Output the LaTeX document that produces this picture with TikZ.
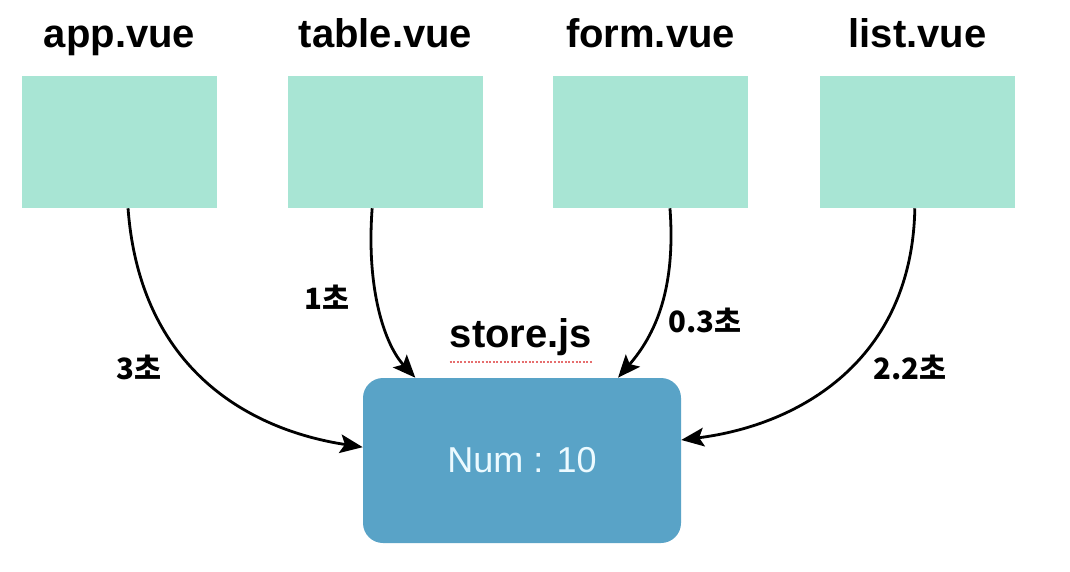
\documentclass[tikz,border=0pt]{standalone}
\usepackage{fontspec}
\setmainfont{Liberation Sans}
\newfontfamily\krfont{Noto Sans CJK KR}
\usetikzlibrary{arrows.meta}
\definecolor{compfill}{RGB}{168,229,212}
\definecolor{storefill}{RGB}{89,163,199}
\definecolor{numtext}{RGB}{236,250,255}
\definecolor{squiggle}{RGB}{230,110,110}
\tikzset{
  comp/.style={fill=compfill, draw=none, minimum width=146.25pt, minimum height=99pt, inner sep=0pt},
  storebox/.style={fill=storefill, draw=none, rounded corners=15pt, minimum width=238.5pt, minimum height=123.75pt, inner sep=0pt, text=numtext, font=\fontsize{27}{30}\selectfont},
  title/.style={font=\fontsize{30}{34}\selectfont\bfseries, inner sep=0pt, anchor=base},
  tlabel/.style={font=\fontsize{22}{26}\selectfont\krfont\bfseries, inner sep=0pt, anchor=base},
  conn/.style={line width=2.1pt, -{Stealth[length=17pt, width=14pt, inset=3.5pt]}}
}
\begin{document}
\begin{tikzpicture}[x=0.75pt, y=-0.75pt]
\useasboundingbox (0,0) rectangle (1070,571);
\fill[white] (0,0) rectangle (1070,571);

\node[comp] (app) at (119.5,142) {};
\node[comp] (table) at (385.5,142) {};
\node[comp] (form) at (650.5,142) {};
\node[comp] (list) at (917.5,142) {};

\node[title] (tapp) at (119.5,47) {app.vue};
\node[title] (ttable) at (385.5,47) {table.vue};
\node[title] (tform) at (650.5,47) {form.vue};
\node[title] (tlist) at (917.5,47) {list.vue};

\node[storebox] (store) at (522,460.5) {Num : 10};
\node[title] (tstore) at (521,347) {store.js};
\draw[squiggle, line width=1.3pt, dash pattern=on 1.5pt off 1.2pt] ([yshift=-11pt]tstore.base west) -- ([yshift=-11pt]tstore.base east);

\draw[conn] ([xshift=6.4pt]app.south) .. controls (140,370) and (250,430) .. ([yshift=10pt]store.west);
\draw[conn] ([xshift=-10pt]table.south) .. controls (366,290) and (385,345) .. ([xshift=-80pt]store.north);
\draw[conn] ([xshift=14.6pt]form.south) .. controls (676,290) and (655,335) .. ([xshift=72pt]store.north);
\draw[conn] ([xshift=-2pt]list.south) .. controls (912,360) and (800,425) .. ([yshift=15.4pt]store.east);

\node[tlabel] (l3) at (139,379) {3초};
\node[tlabel] (l1) at (327,309) {1초};
\node[tlabel] (l03) at (705,332) {0.3초};
\node[tlabel] (l22) at (910,379) {2.2초};
\end{tikzpicture}
\end{document}
